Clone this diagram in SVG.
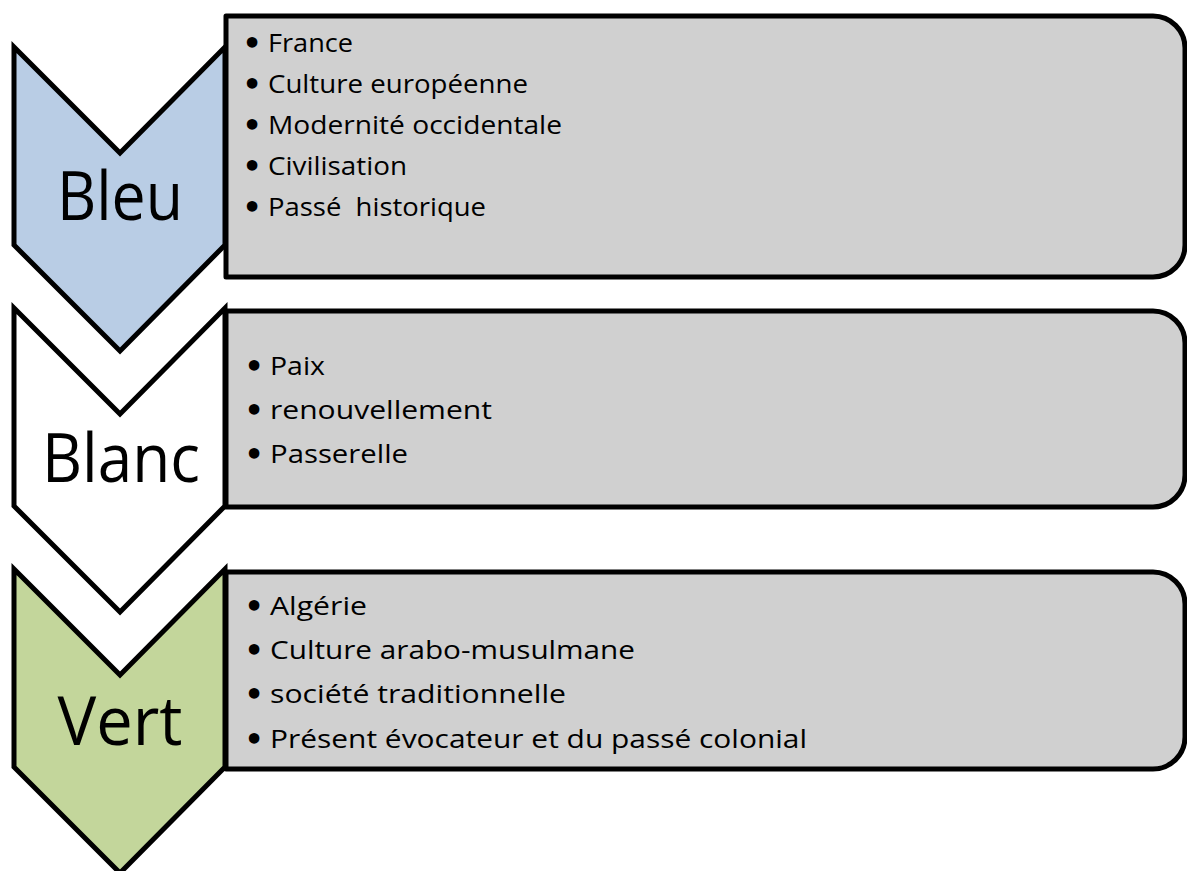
<svg xmlns="http://www.w3.org/2000/svg" width="1187" height="871" viewBox="0 0 1187 871">
<style>
.chev{stroke:#000;stroke-width:5;stroke-linejoin:miter}
.box{fill:#D0D0D0;stroke:#000;stroke-width:5;stroke-linejoin:round}
.lbl{font-family:"Open Sans","Liberation Sans",sans-serif;font-size:68px;fill:#000;text-anchor:middle}
.it{font-family:"Open Sans","Liberation Sans",sans-serif;font-size:26px;fill:#000}
.bul{font-family:"DejaVu Sans",sans-serif;font-weight:bold;font-size:30px;fill:#000;text-anchor:middle}
</style>
<rect width="1187" height="871" fill="#FFFFFF"/>
<g id="bleu">
<path class="chev" fill="#B9CDE5" d="M14,47 L120,153 L225,47 L225,245 L120,351 L14,245 Z"/>
<path class="box" d="M226,16 H1153 A32,32 0 0 1 1185,48 V245 A32,32 0 0 1 1153,277 H226 Z"/>
<text class="lbl" x="120" y="220" textLength="126" lengthAdjust="spacingAndGlyphs">Bleu</text>
<text class="bul" x="252" y="54">•</text><text class="it" x="268" y="52" textLength="85" lengthAdjust="spacingAndGlyphs">France</text>
<text class="bul" x="252" y="95">•</text><text class="it" x="268" y="93" textLength="260" lengthAdjust="spacingAndGlyphs">Culture européenne</text>
<text class="bul" x="252" y="136">•</text><text class="it" x="268" y="134" textLength="294" lengthAdjust="spacingAndGlyphs">Modernité occidentale</text>
<text class="bul" x="252" y="177">•</text><text class="it" x="268" y="175" textLength="139" lengthAdjust="spacingAndGlyphs">Civilisation</text>
<text class="bul" x="252" y="218">•</text><text class="it" x="268" y="216" textLength="218" lengthAdjust="spacingAndGlyphs" xml:space="preserve">Passé  historique</text>
</g>
<g id="blanc">
<path class="chev" fill="#FFFFFF" d="M14,308 L120,414 L225,308 L225,506 L120,612 L14,506 Z"/>
<path class="box" d="M226,311 H1153 A32,32 0 0 1 1185,343 V475 A32,32 0 0 1 1153,507 H226 Z"/>
<text class="lbl" x="121" y="482" textLength="158" lengthAdjust="spacingAndGlyphs">Blanc</text>
<text class="bul" x="254" y="377">•</text><text class="it" x="270" y="375" textLength="55" lengthAdjust="spacingAndGlyphs">Paix</text>
<text class="bul" x="254" y="421">•</text><text class="it" x="270" y="419" textLength="222" lengthAdjust="spacingAndGlyphs">renouvellement</text>
<text class="bul" x="254" y="465">•</text><text class="it" x="270" y="463" textLength="138" lengthAdjust="spacingAndGlyphs">Passerelle</text>
</g>
<g id="vert">
<path class="chev" fill="#C3D69B" d="M14,569 L120,675 L225,569 L225,767 L120,873 L14,767 Z"/>
<path class="box" d="M226,572 H1153 A32,32 0 0 1 1185,604 V737 A32,32 0 0 1 1153,769 H226 Z"/>
<text class="lbl" x="120" y="745" textLength="125" lengthAdjust="spacingAndGlyphs">Vert</text>
<text class="bul" x="254" y="617">•</text><text class="it" x="270" y="615" textLength="97" lengthAdjust="spacingAndGlyphs">Algérie</text>
<text class="bul" x="254" y="661">•</text><text class="it" x="270" y="659" textLength="365" lengthAdjust="spacingAndGlyphs">Culture arabo-musulmane</text>
<text class="bul" x="254" y="705">•</text><text class="it" x="270" y="703" textLength="296" lengthAdjust="spacingAndGlyphs">société traditionnelle</text>
<text class="bul" x="254" y="750">•</text><text class="it" x="270" y="748" textLength="537" lengthAdjust="spacingAndGlyphs">Présent évocateur et du passé colonial</text>
</g>
<g id="connectors"/>
</svg>
